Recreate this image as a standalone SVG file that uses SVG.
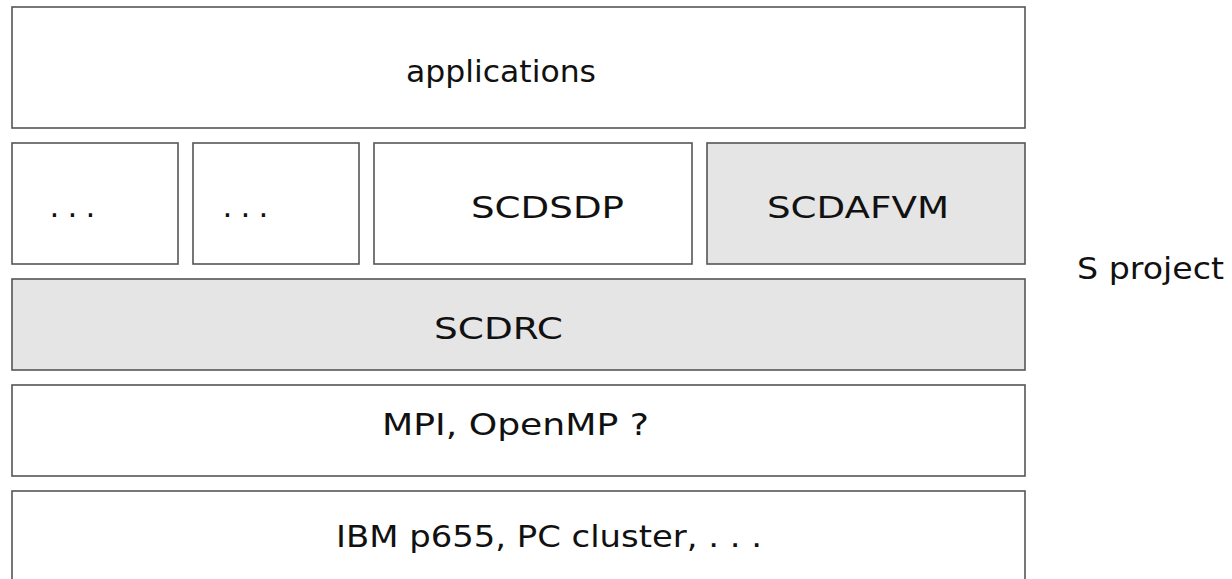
<svg xmlns="http://www.w3.org/2000/svg" width="1232" height="579" viewBox="0 0 1232 579">
<style>
.b{fill:#ffffff;stroke:#555555;stroke-width:1.6}
.g{fill:#e5e5e5;stroke:#555555;stroke-width:1.6}
text{font-family:"DejaVu Sans",sans-serif;font-size:31px;fill:#111111}
</style>
<rect width="1232" height="579" fill="#ffffff"/>
<g id="applications"><rect class="b" x="12" y="7" width="1013" height="121"/><text x="406" y="82" textLength="190" lengthAdjust="spacingAndGlyphs">applications</text></g>
<g id="dots1"><rect class="b" x="12" y="143" width="166" height="121"/><text x="49.5 67.5 85.5" y="217">...</text></g>
<g id="dots2"><rect class="b" x="193" y="143" width="166" height="121"/><text x="222.5 240.5 258.5" y="217">...</text></g>
<g id="scdsdp"><rect class="b" x="374" y="143" width="318" height="121"/><text x="471" y="218" textLength="153" lengthAdjust="spacingAndGlyphs">SCDSDP</text></g>
<g id="scdafvm"><rect class="g" x="707" y="143" width="318" height="121"/><text x="767" y="218" textLength="182" lengthAdjust="spacingAndGlyphs">SCDAFVM</text></g>
<g id="scdrc"><rect class="g" x="12" y="279" width="1013" height="91"/><text x="434" y="339" textLength="129" lengthAdjust="spacingAndGlyphs">SCDRC</text></g>
<g id="mpi"><rect class="b" x="12" y="385" width="1013" height="91"/><text x="382" y="435" textLength="267" lengthAdjust="spacingAndGlyphs">MPI, OpenMP ?</text></g>
<g id="ibm"><rect class="b" x="12" y="491" width="1013" height="100"/><text x="336" y="547" textLength="426" lengthAdjust="spacingAndGlyphs">IBM p655, PC cluster, . . .</text></g>
<g id="sproject"><text x="1077" y="279" textLength="147" lengthAdjust="spacingAndGlyphs">S project</text></g>
<g id="connectors"></g>
</svg>
